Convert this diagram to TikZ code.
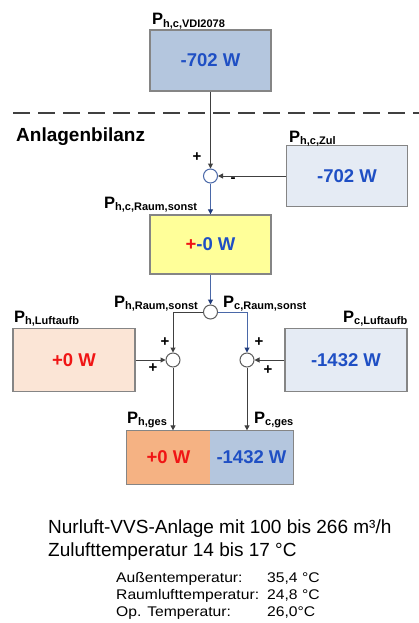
\documentclass[tikz,border=0pt]{standalone}
\usepackage{fontspec}
\setmainfont{Liberation Sans}
\newfontfamily\tabfont[FakeStretch=1.12]{Liberation Sans}
\usetikzlibrary{arrows.meta}

\definecolor{steelfill}{HTML}{B4C6DE}
\definecolor{palefill}{HTML}{E5EBF4}
\definecolor{yellowfill}{HTML}{FFFF99}
\definecolor{peachfill}{HTML}{FBE5D6}
\definecolor{orangefill}{HTML}{F5B283}
\definecolor{boxline}{HTML}{858585}
\definecolor{valblue}{HTML}{1F4FC4}
\definecolor{valred}{HTML}{F01515}
\definecolor{conngray}{HTML}{404040}
\definecolor{connblue}{HTML}{4A68A8}
\definecolor{tipblue}{HTML}{1F3A7A}

\newcommand\fsz[1]{\fontsize{#1}{#1}\selectfont}
\newcommand\pwr[1]{\textbf{\fsz{16.5}P\raisebox{-2.5pt}{\fsz{11}#1}}}
\newcommand\bval[1]{\textcolor{valblue}{#1}}
\newcommand\rval[1]{\textcolor{valred}{#1}}

\begin{document}
\begin{tikzpicture}[x=1pt,y=-1pt,
  box/.style={draw=boxline, line width=1.3pt, inner sep=0pt,
    minimum width=121pt, minimum height=61pt,
    font=\fsz{18.5}\bfseries},
  plab/.style={anchor=base west, inner sep=0pt},
  sumc/.style={circle, draw=#1, fill=white, line width=1pt,
    minimum size=14pt, inner sep=0pt},
  sumc/.default=conngray!85,
  sign/.style={inner sep=0pt, font=\fsz{15}\bfseries},
  conn/.style={draw=conngray, line width=1pt,
    -{Triangle[length=5pt,width=5pt]}},
  bconn/.style={draw=connblue, line width=1pt,
    -{Triangle[length=5pt,width=5pt,color=tipblue]}},
  txt/.style={anchor=base west, inner sep=0pt, font=\fsz{19}},
  tab/.style={anchor=base west, inner sep=0pt, font=\tabfont\fsz{14}}
]
\useasboundingbox (0,0) rectangle (419,623);

% reference value box
\node[box, fill=steelfill] (vdi) at (210.5,60.5) {\bval{-702 W}};
\node[plab] (lvdi) at (152,25) {\pwr{h,c,VDI2078}};

% separator and section title
\draw[conngray, line width=2pt, dash pattern=on 17pt off 8pt] (13,113) -- (419,113);
\node[anchor=base west, inner sep=0pt, font=\fsz{19}\bfseries] (title) at (16,141) {Anlagenbilanz};

% first summation
\node[sumc=connblue] (s1) at (210.5,176) {};
\node[box, fill=palefill] (zul) at (347,176) {\bval{-702 W}};
\node[plab] (lzul) at (289,142) {\pwr{h,c,Zul}};
\node[sign] (p1) at (197,157) {+};
\node[sign] (m1) at (233,180) {-};

% room balance
\node[box, fill=yellowfill, minimum height=59pt] (raum) at (210.5,244.5) {\rval{+}\bval{-0 W}};
\node[plab] (lraum) at (104,208) {\pwr{h,c,Raum,sonst}};

% split into heating / cooling
\node[sumc] (s2) at (210.5,312) {};
\node[plab, anchor=base east] (lhr) at (198,307) {\pwr{h,Raum,sonst}};
\node[plab] (lcr) at (223,307) {\pwr{c,Raum,sonst}};

\node[sumc] (s3) at (173,360) {};
\node[sumc] (s4) at (247,360) {};

\node[box, fill=peachfill, minimum width=122pt, minimum height=63pt] (lbh) at (74,360) {\rval{+0 W}};
\node[plab] (llbh) at (14,322) {\pwr{h,Luftaufb}};
\node[box, fill=palefill, minimum width=122pt, minimum height=63pt] (lbc) at (346,360) {\bval{-1432 W}};
\node[plab] (llbc) at (343,322) {\pwr{c,Luftaufb}};

\node[sign] (p3a) at (165,342) {+};
\node[sign] (p3b) at (153,368) {+};
\node[sign] (p4a) at (259,342) {+};
\node[sign] (p4b) at (268,370) {+};

% totals
\node[box, draw=none, fill=orangefill, minimum width=83pt, minimum height=53pt] (gesh) at (168.5,457.5) {\rval{+0 W}};
\node[box, draw=none, fill=steelfill, minimum width=83pt, minimum height=53pt] (gesc) at (251.5,457.5) {\bval{-1432 W}};
\draw[boxline, line width=1.3pt] (gesh.north west) rectangle (gesc.south east);
\node[plab] (lgesh) at (127,423) {\pwr{h,ges}};
\node[plab] (lgesc) at (254,423) {\pwr{c,ges}};

% connectors
\draw[conn] (vdi.south) -- (s1.north);
\draw[conn] (zul.west) -- (s1.east);
\draw[bconn] (s1.south) -- (raum.north);
\draw[bconn] (raum.south) -- (s2.north);
\draw[conn] (s2.west) -| (s3.north);
\draw[bconn] (s2.east) -| (s4.north);
\draw[conn] (lbh.east) -- (s3.west);
\draw[conn] (lbc.west) -- (s4.east);
\draw[conn] (s3.south) -- (s3 |- gesh.north);
\draw[conn] (s4.south) -- (s4 |- gesc.north);

% description
\node[txt] (d1) at (48,533) {Nurluft-VVS-Anlage mit 100 bis 266 m³/h};
\node[txt] (d2) at (48,556) {Zulufttemperatur 14 bis 17 °C};

\node[tab] (t1) at (116,582) {Außentemperatur:};
\node[tab] (t2) at (116,599) {Raumlufttemperatur:};
\node[tab] (t3) at (116,616) {Op. Temperatur:};
\node[tab] (v1) at (267,582) {35,4 °C};
\node[tab] (v2) at (267,599) {24,8 °C};
\node[tab] (v3) at (267,616) {26,0°C};
\end{tikzpicture}
\end{document}
